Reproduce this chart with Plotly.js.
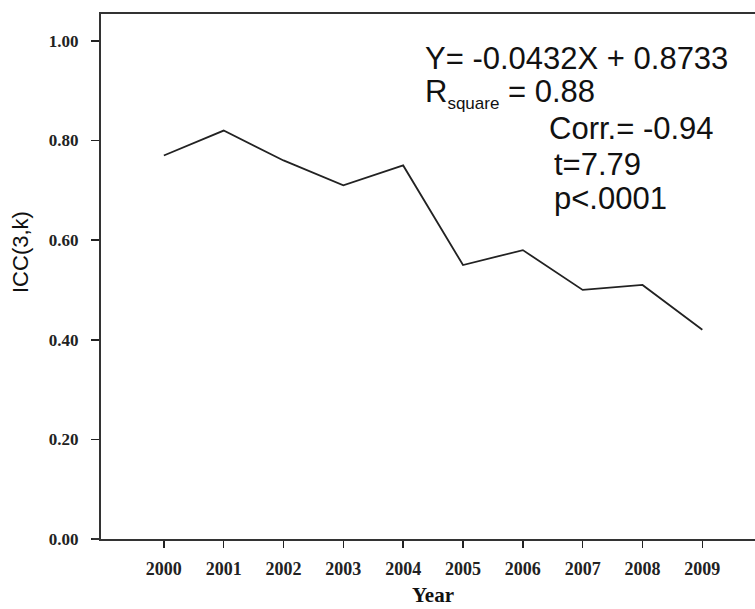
<!DOCTYPE html>
<html>
<head>
<meta charset="utf-8">
<script src="https://cdn.plot.ly/plotly-3.0.1.min.js"></script>
<style>
  html, body { margin: 0; padding: 0; background: #ffffff; }
  #chart { width: 755px; height: 609px; }
</style>
</head>
<body>
<div id="chart"></div>
<script>
// Data
const years = [2000, 2001, 2002, 2003, 2004, 2005, 2006, 2007, 2008, 2009];
const icc = [0.77, 0.82, 0.76, 0.71, 0.75, 0.55, 0.58, 0.50, 0.51, 0.42];
const yTickVals = [0, 0.2, 0.4, 0.6, 0.8, 1.0];
const statLines = [
  "Y= -0.0432X + 0.8733",
  "R<sub><span style=\"font-size:17px\">square</span></sub> = 0.88",
  "Corr.= -0.94",
  "t=7.79",
  "p<.0001"
];
const xTitle = "Year";
const yTitle = "ICC(3,k)";

const statPos = [
  {x: 0.494, y: 0.916},
  {x: 0.494, y: 0.848},
  {x: 0.6835, y: 0.781},
  {x: 0.6915, y: 0.714},
  {x: 0.6915, y: 0.648}
];

const annotations = statLines.map((t, i) => ({
  text: t, xref: 'paper', yref: 'paper', x: statPos[i].x, y: statPos[i].y,
  xanchor: 'left', yanchor: 'middle', showarrow: false, borderpad: 0,
  font: {family: 'Liberation Sans, Arial, sans-serif', size: 31, color: '#111'}
}));
annotations.push({
  text: yTitle, xref: 'paper', yref: 'paper', x: 0, y: (539 - 252) / 525,
  xshift: -81, textangle: -90, xanchor: 'center', yanchor: 'middle', showarrow: false,
  font: {family: 'Liberation Sans, Arial, sans-serif', size: 22, color: '#111'}
});
annotations.push({
  text: xTitle, xref: 'paper', yref: 'paper', x: (433 - 101) / 654, y: 0,
  yshift: -69, xanchor: 'center', yanchor: 'bottom', showarrow: false, borderpad: 0,
  font: {family: 'Liberation Serif, Times New Roman, serif', size: 21, color: '#111', weight: 'bold'}
});

const trace = {
  x: years, y: icc, type: 'scatter', mode: 'lines',
  line: {color: '#222', width: 1.8}, hoverinfo: 'skip'
};

const layout = {
  width: 755, height: 609,
  margin: {l: 101, r: 0, t: 14, b: 70, pad: 0},
  paper_bgcolor: '#ffffff', plot_bgcolor: '#ffffff',
  showlegend: false,
  xaxis: {
    range: [1998.95, 2009.88], tickmode: 'array', tickvals: years,
    ticks: 'outside', ticklen: 7, tickwidth: 1.5, tickcolor: '#222',
    showline: true, linecolor: '#333', linewidth: 2, mirror: true,
    showgrid: false, zeroline: false, ticklabelstandoff: 5,
    tickfont: {family: 'Liberation Serif, Times New Roman, serif', size: 18, color: '#222', weight: 'bold'}
  },
  yaxis: {
    range: [0, 1.054], tickmode: 'array', tickvals: yTickVals, tickformat: '.2f',
    ticks: 'outside', ticklen: 8, tickwidth: 1.5, tickcolor: '#222',
    showline: true, linecolor: '#333', linewidth: 2,
    showgrid: false, zeroline: false, ticklabelstandoff: 9,
    tickfont: {family: 'Liberation Serif, Times New Roman, serif', size: 17, color: '#222', weight: 'bold'}
  },
  shapes: [{
    type: 'line', xref: 'paper', yref: 'paper', x0: -0.013, x1: 0, y0: 0, y1: 0,
    line: {color: '#333', width: 2}
  }],
  annotations: annotations
};

Plotly.newPlot('chart', [trace], layout, {displayModeBar: false, staticPlot: true});
</script>
</body>
</html>
